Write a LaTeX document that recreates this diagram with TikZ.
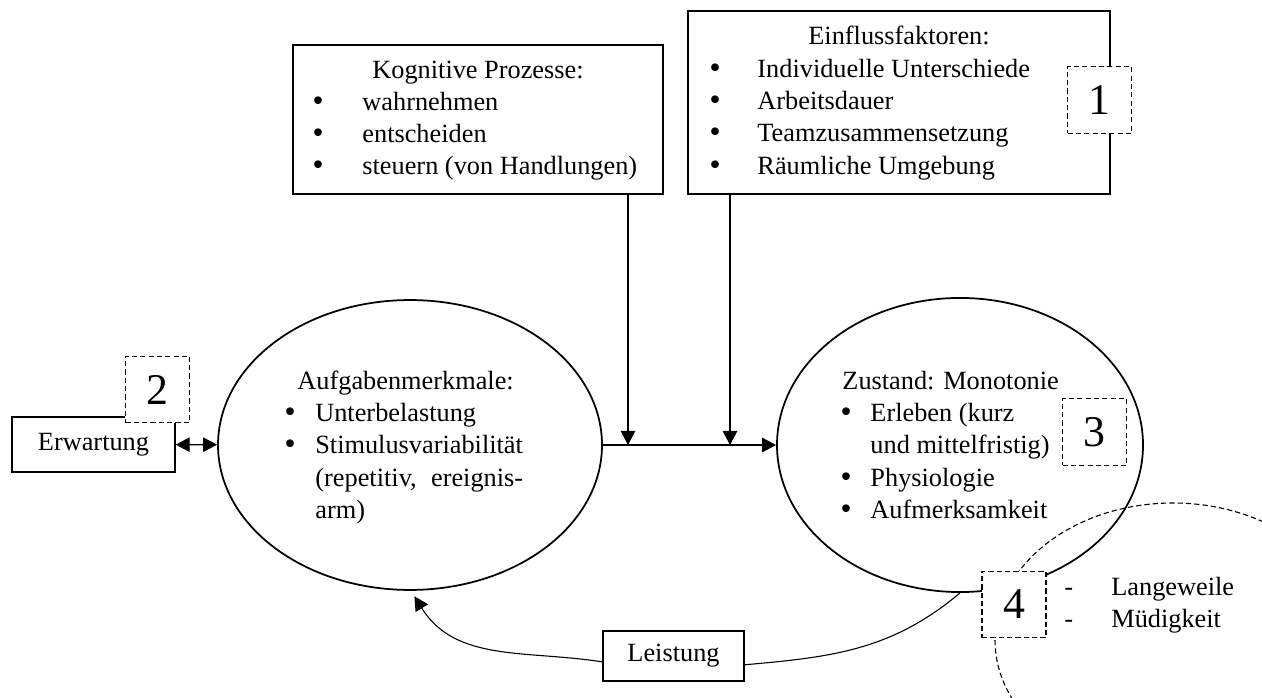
\documentclass[tikz,border=0pt]{standalone}
\usepackage{fontspec}
\setmainfont{Liberation Serif}
\newfontfamily\bulfont{DejaVu Sans}
\usetikzlibrary{arrows.meta,shapes.geometric}

\newcommand{\bitem}[2]{\makebox[#1][l]{\bulfont •}#2}

\begin{document}
\begin{tikzpicture}[
    x=0.456pt, y=-0.456pt,
    font=\fontsize{12}{14.4}\selectfont,
    >={Triangle[length=6.4pt,width=6.6pt]},
    box/.style={draw, line width=0.6pt, fill=white, inner sep=0pt},
    oval/.style={ellipse, draw, line width=0.8pt, inner sep=0pt},
    numbox/.style={draw, dash pattern=on 2.4pt off 1.4pt, line width=0.5pt, fill=white,
                   inner sep=0pt, minimum width=29.2pt, minimum height=30.5pt,
                   font=\fontsize{20}{24}\selectfont},
    txt/.style={anchor=base west, inner sep=0pt},
    flow/.style={->, line width=0.6pt},
    backflow/.style={line width=0.5pt},
  ]
    \useasboundingbox (0,0) rectangle (1262,698);

    % --- the two states --------------------------------------------------
    \node[oval, minimum width=175.1pt, minimum height=132.2pt] (am) at (410,445) {};
    \node[oval, minimum width=166.9pt, minimum height=134.1pt] (zs) at (960,445) {};

    \node[txt] (amt) at (297,390) {Aufgabenmerkmale:};
    \node[txt] (am1) at (282,422) {\bitem{15pt}{Unterbelastung}};
    \node[txt] (am2) at (282,454) {\bitem{15pt}{Stimulusvariabilität}};
    \node[txt] (am3) at (315,486) {\makebox[94.7pt][s]{(repetitiv, ereignis-}};
    \node[txt] (am4) at (315,518) {arm)};

    \node[txt] (zst) at (842,390) {Zustand: Monotonie};
    \node[txt] (zs1) at (838,422) {\bitem{14.6pt}{Erleben (kurz}};
    \node[txt] (zs2) at (870,454) {und mittelfristig)};
    \node[txt] (zs3) at (838,486) {\bitem{14.6pt}{Physiologie}};
    \node[txt] (zs4) at (838,518) {\bitem{14.6pt}{Aufmerksamkeit}};

    % --- dashed range of the consequences ---------------------------------
    \begin{scope}
      \clip (0,0) rectangle (1262,698);
      \draw[dash pattern=on 2.4pt off 1.4pt, line width=0.5pt]
        (1173,640) ellipse [x radius=178, y radius=137];
    \end{scope}

    % --- boxes on top ----------------------------------------------------
    \node[box, minimum width=168.7pt, minimum height=67.9pt] (kog) at (478,119.5) {};
    \node[anchor=base, inner sep=0pt] (kogt) at (478,79) {Kognitive Prozesse:};
    \node[txt] (kog1) at (310,111) {\bitem{23.7pt}{wahrnehmen}};
    \node[txt] (kog2) at (310,143) {\bitem{23.7pt}{entscheiden}};
    \node[txt] (kog3) at (310,175) {\bitem{23.7pt}{steuern (von Handlungen)}};

    \node[box, minimum width=192.4pt, minimum height=83.4pt] (einf) at (899,102.5) {};
    \node[anchor=base, inner sep=0pt] (einft) at (899,45) {Einflussfaktoren:};
    \node[txt] (einf1) at (707,78)  {\bitem{22.8pt}{Individuelle Unterschiede}};
    \node[txt] (einf2) at (707,110) {\bitem{22.8pt}{Arbeitsdauer}};
    \node[txt] (einf3) at (707,142) {\bitem{22.8pt}{Teamzusammensetzung}};
    \node[txt] (einf4) at (707,175) {\bitem{22.8pt}{Räumliche Umgebung}};

    \node[box, minimum width=74.3pt, minimum height=25.1pt] (erw) at (93.5,444.5) {Erwartung};
    \node[box, minimum width=64.3pt, minimum height=22.8pt] (leist) at (673.5,656) {Leistung};

    % --- arrows ----------------------------------------------------------
    \coordinate (j1) at (628,445);
    \coordinate (j2) at (730,445);
    \draw[flow] (am) -- (zs);
    \draw[flow] (kog.south -| j1) -- (j1);
    \draw[flow] (einf.south -| j2) -- (j2);
    \draw[<->, line width=0.6pt] (erw) -- (am);

    % --- feedback via Leistung -------------------------------------------
    \draw[backflow] (zs.south) to[out=-140, in=5] ([yshift=-4pt]leist.east);
    \draw[backflow, ->] ([yshift=-2.7pt]leist.west) to[out=171, in=-58]
      ([xshift=2pt, yshift=-2.5pt]am.south);

    % --- numbered markers ------------------------------------------------
    \node[numbox] (n1) at (1099.5,100) {1};
    \node[numbox] (n2) at (157.5,389.5) {2};
    \node[numbox] (n3) at (1094.5,432) {3};
    \node[numbox] (n4) at (1014,604.5) {4};

    \node[txt] (lw) at (1064,595) {\makebox[21.4pt][l]{-}Langeweile};
    \node[txt] (md) at (1064,627) {\makebox[21.4pt][l]{-}Müdigkeit};
\end{tikzpicture}
\end{document}
